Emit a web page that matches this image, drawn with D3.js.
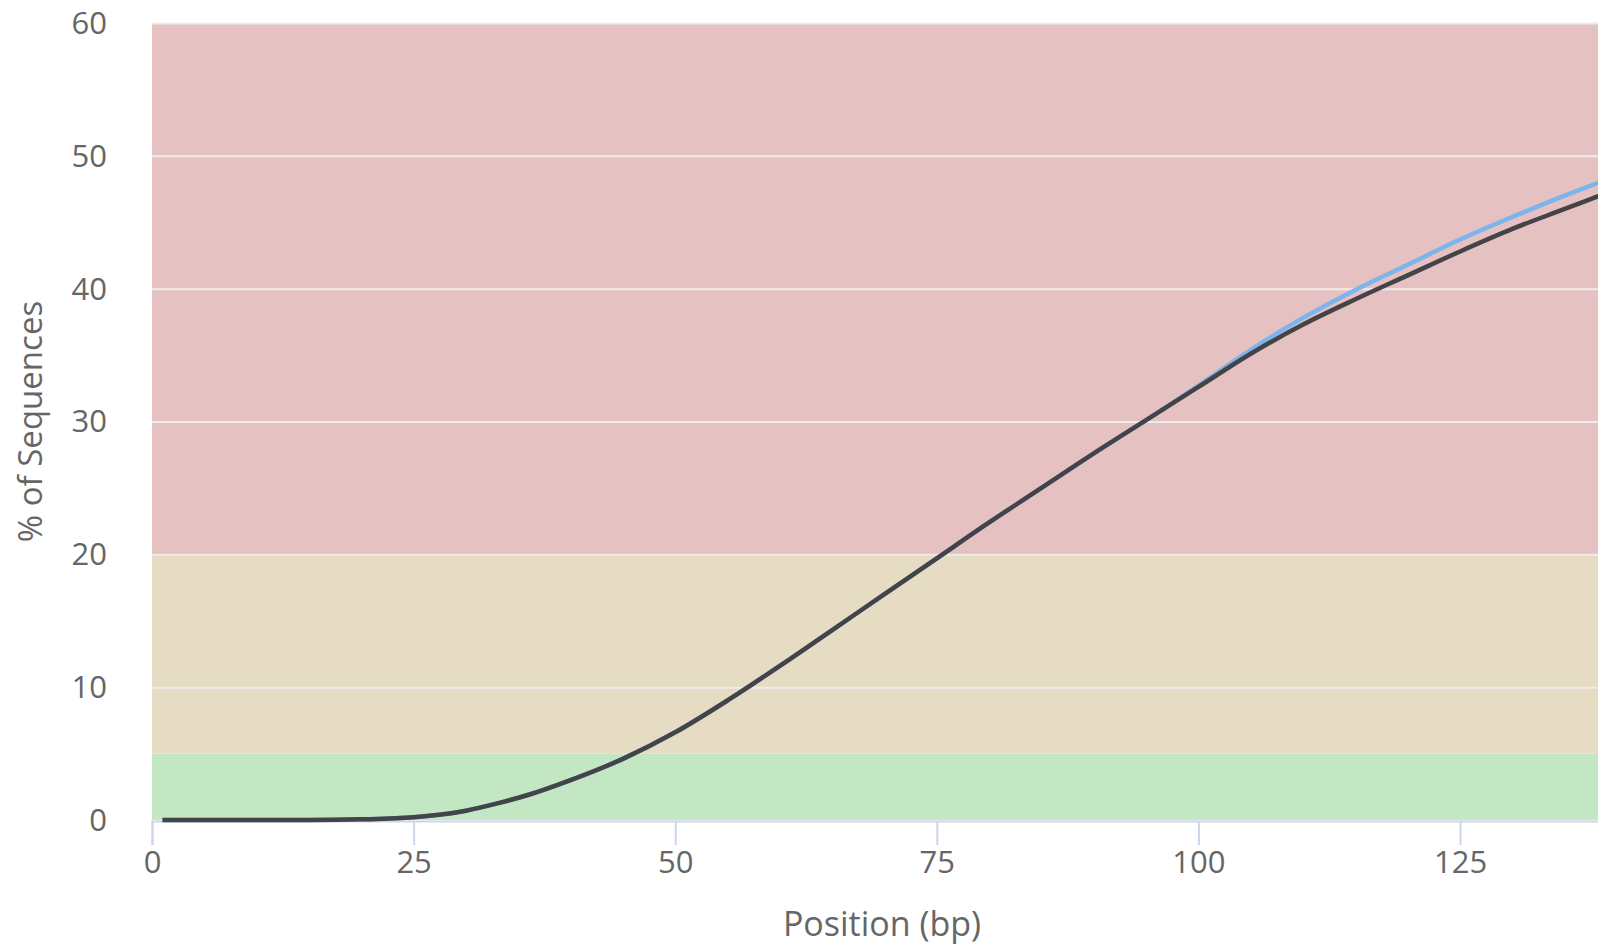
<!DOCTYPE html>
<html>
<head>
<script src="https://d3js.org/d3.v7.min.js"></script>
<style>
  body { margin: 0; overflow: hidden; background: #fff; }
  svg text { font-family: "Open Sans", sans-serif; fill: #666; }
</style>
</head>
<body>
<svg id="chart" width="1598" height="947"></svg>
<script>
// adapter content, % of sequences by position
var positions = [1, 5, 10, 15, 20, 25, 27, 30, 33, 36, 40, 45, 50, 55, 60, 65, 70, 75, 80, 85, 90, 95, 100, 105, 110, 115, 120, 125, 130, 135, 140];
var seriesBlack = [0, 0, 0, 0, 0.05, 0.2, 0.35, 0.7, 1.25, 1.9, 3.0, 4.6, 6.6, 9.0, 11.6, 14.3, 17.0, 19.7, 22.4, 25.0, 27.6, 30.1, 32.6, 35.1, 37.3, 39.2, 41.0, 42.8, 44.5, 46.0, 47.5];
var seriesBlue  = [0, 0, 0, 0, 0.05, 0.2, 0.35, 0.7, 1.25, 1.9, 3.0, 4.6, 6.6, 9.0, 11.6, 14.3, 17.0, 19.7, 22.4, 25.0, 27.6, 30.1, 32.7, 35.4, 37.8, 39.9, 41.8, 43.7, 45.4, 47.0, 48.5];
var xTicks = [0, 25, 50, 75, 100, 125];
var yTicks = [0, 10, 20, 30, 40, 50, 60];
var bands = [
  {from: 0, to: 5, color: "#c3e6c3"},
  {from: 5, to: 20, color: "#e6dcc3"},
  {from: 20, to: 60, color: "#e6c1c2"}
];

var svg = d3.select("#chart");
var plotLeft = 152, plotRight = 1617, plotTop = 23, plotBottom = 820;

var x = d3.scaleLinear().domain([0, 140]).range([plotLeft, plotRight]);
var y = d3.scaleLinear().domain([0, 60]).range([plotBottom, plotTop]);

// plot bands
svg.append("g").selectAll("rect")
  .data(bands)
  .enter().append("rect")
  .attr("x", plotLeft)
  .attr("width", plotRight - plotLeft)
  .attr("y", d => y(d.to))
  .attr("height", d => y(d.from) - y(d.to))
  .attr("fill", d => d.color);

// grid
svg.append("g").selectAll("line")
  .data(yTicks.filter(t => t > 0))
  .enter().append("line")
  .attr("x1", plotLeft).attr("x2", plotRight)
  .attr("y1", d => y(d) + 0.5).attr("y2", d => y(d) + 0.5)
  .attr("stroke", "#ececec")
  .attr("stroke-width", 2);

// y axis labels
svg.append("g").selectAll("text")
  .data(yTicks)
  .enter().append("text")
  .attr("x", 107)
  .attr("y", d => y(d))
  .attr("dy", "0.35em")
  .attr("text-anchor", "end")
  .style("font-size", "31px")
  .text(d => d);

// x axis
var axisX = d3.axisBottom(x)
  .tickValues(xTicks)
  .tickSize(24)
  .tickPadding(6)
  .tickFormat(d => d);

var gx = svg.append("g")
  .attr("transform", "translate(0," + (plotBottom + 1) + ")")
  .call(axisX);
gx.select(".domain").attr("stroke", "#ccd6eb").attr("stroke-width", 2);
gx.selectAll(".tick line").attr("stroke", "#ccd6eb").attr("stroke-width", 2);
gx.selectAll(".tick text")
  .style("font-size", "31px")
  .style("font-family", "Open Sans, sans-serif")
  .style("fill", "#666");

// lines
var line = d3.line()
  .x((d, i) => x(positions[i]))
  .y(d => y(d))
  .curve(d3.curveMonotoneX);

svg.append("path")
  .attr("d", line(seriesBlue))
  .attr("fill", "none")
  .attr("stroke", "#7cb5ec")
  .attr("stroke-width", 4.5);

svg.append("path")
  .attr("d", line(seriesBlack))
  .attr("fill", "none")
  .attr("stroke", "#434348")
  .attr("stroke-width", 4.5);

// axis titles
svg.append("text")
  .attr("x", 882)
  .attr("y", 936)
  .attr("text-anchor", "middle")
  .style("font-size", "34px")
  .text("Position (bp)");

svg.append("text")
  .attr("transform", "translate(42," + ((plotTop + plotBottom) / 2) + ") rotate(-90)")
  .attr("text-anchor", "middle")
  .style("font-size", "33px")
  .text("% of Sequences");
</script>
</body>
</html>
